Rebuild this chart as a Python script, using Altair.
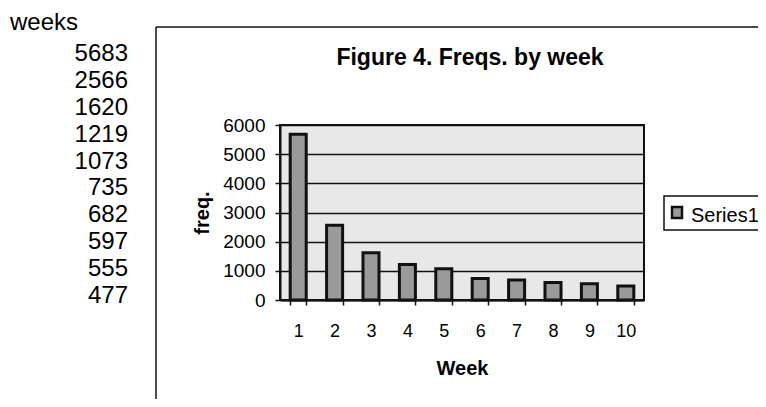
import altair as alt
import pandas as pd

# ---- data ----
weeks = list(range(1, 11))
freqs = [5683, 2566, 1620, 1219, 1073, 735, 682, 597, 555, 477]
column_header = "weeks"
series_name = "Series1"
chart_title = "Figure 4. Freqs. by week"
x_title = "Week"
y_title = "freq."
y_ticks = [0, 1000, 2000, 3000, 4000, 5000, 6000]

FONT = "Liberation Sans, Arial, Helvetica, sans-serif"
BAR_FILL = "#9a9a9a"
INK = "#111111"

df = pd.DataFrame({"week": weeks, "freq": freqs, "row": list(range(len(freqs)))})
one = pd.DataFrame({"k": [0]})

bars = alt.Chart(df).mark_bar(fill=BAR_FILL, stroke=INK, strokeWidth=3).encode(
    x=alt.X(
        "week:O",
        scale=alt.Scale(paddingInner=0.56, paddingOuter=0.28),
        axis=alt.Axis(
            title=x_title, labelAngle=0, labelFontSize=18, labelPadding=17,
            tickSize=5, tickBand="extent", titleFontSize=20,
            titleFontWeight="bold", titlePadding=18,
        ),
    ),
    y=alt.Y(
        "freq:Q",
        scale=alt.Scale(domain=[0, 6000], nice=False),
        axis=alt.Axis(
            title=y_title, values=y_ticks, format="d", labelFontSize=19,
            labelPadding=10, tickSize=5, grid=True, gridColor=INK,
            gridWidth=1.5, titleFontSize=20, titleFontWeight="bold",
            titlePadding=10,
        ),
    ),
)

table = alt.Chart(df).mark_text(
    align="right", baseline="alphabetic", fontSize=24, font=FONT, color="black"
).encode(
    x=alt.value(-152),
    y=alt.Y("row:Q", scale=alt.Scale(domain=[0, 9], range=[-64, 178], nice=False, zero=False), axis=None),
    text=alt.Text("freq:Q", format="d"),
)

header = alt.Chart(one).mark_text(
    align="left", baseline="alphabetic", fontSize=24, font=FONT, color="black"
).encode(x=alt.value(-270), y=alt.value(-95), text=alt.value(column_header))

title = alt.Chart(one).mark_text(
    align="center", baseline="alphabetic", fontSize=23, fontWeight="bold", font=FONT, color="black"
).encode(x=alt.value(190), y=alt.value(-60), text=alt.value(chart_title))

frame_top = alt.Chart(one).mark_rule(color=INK, strokeWidth=1.5).encode(
    x=alt.value(-124), x2=alt.value(520), y=alt.value(-98)
)
frame_left = alt.Chart(one).mark_rule(color=INK, strokeWidth=1.5).encode(
    x=alt.value(-124), y=alt.value(-98), y2=alt.value(320)
)

legend_box = alt.Chart(one).mark_rect(fill="white", stroke=INK, strokeWidth=1.5).encode(
    x=alt.value(384), x2=alt.value(520), y=alt.value(71), y2=alt.value(105)
)
legend_sym = alt.Chart(one).mark_rect(fill=BAR_FILL, stroke=INK, strokeWidth=2.5).encode(
    x=alt.value(392), x2=alt.value(402), y=alt.value(82), y2=alt.value(93)
)
legend_txt = alt.Chart(one).mark_text(
    align="left", baseline="alphabetic", fontSize=20, font=FONT, color="black"
).encode(x=alt.value(411), y=alt.value(97), text=alt.value(series_name))

chart = (
    alt.layer(frame_top, frame_left, bars, table, header, title, legend_box, legend_sym, legend_txt)
    .resolve_scale(y="independent")
    .properties(
        width=364,
        height=175,
        autosize=alt.AutoSizeParams(type="none"),
        padding={"left": 272, "top": 117, "right": 114, "bottom": 99},
        background="white",
    )
    .configure_view(fill="#e8e8e8", stroke=INK, strokeWidth=2)
    .configure_axis(
        domainColor=INK, tickColor=INK, labelColor="black", titleColor="black",
        labelFont=FONT, titleFont=FONT, domainWidth=2, tickWidth=1.5,
    )
)

chart.save("out.html", embed_options={"renderer": "svg", "actions": False})
